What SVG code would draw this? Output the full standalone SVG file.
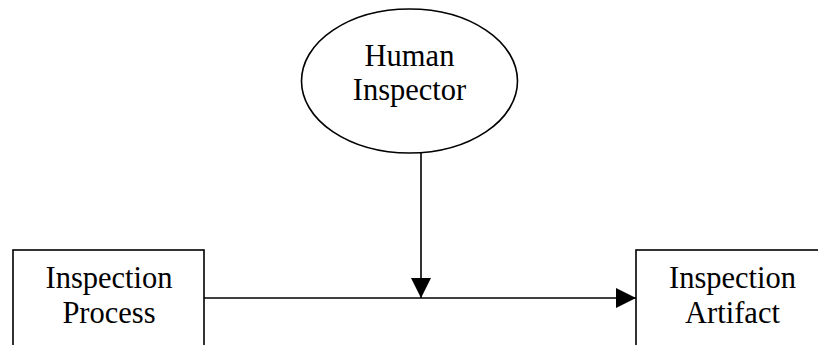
<svg xmlns="http://www.w3.org/2000/svg" width="818" height="345" viewBox="0 0 818 345">
<style>
.shape{fill:#fff;stroke:#000;stroke-width:1.6}
.lbl{font-family:"Liberation Serif","Times New Roman",serif;font-size:30.5px;fill:#000;text-anchor:middle}
.conn{stroke:#000;stroke-width:1.6;fill:none}
</style>
<defs>
<marker id="arr" markerWidth="20" markerHeight="20" refX="20" refY="10" orient="auto" markerUnits="userSpaceOnUse">
<path d="M0,0 L20,10 L0,20 Z" fill="#000"/>
</marker>
</defs>
<rect width="818" height="345" fill="#fff"/>
<g id="human-inspector">
<ellipse class="shape" cx="409.5" cy="81" rx="108" ry="72"/>
<text class="lbl" x="409.5" y="66">Human</text>
<text class="lbl" x="409.5" y="100">Inspector</text>
</g>
<g id="inspection-process">
<rect class="shape" x="13" y="250" width="191" height="110"/>
<text class="lbl" x="109" y="288">Inspection</text>
<text class="lbl" x="109" y="323">Process</text>
</g>
<g id="inspection-artifact">
<rect class="shape" x="636" y="250" width="200" height="110"/>
<text class="lbl" x="732.5" y="288">Inspection</text>
<text class="lbl" x="732.5" y="323">Artifact</text>
</g>
<g id="connectors">
<line class="conn" x1="204" y1="298" x2="636" y2="298" marker-end="url(#arr)"/>
<line class="conn" x1="421" y1="153" x2="421" y2="298" marker-end="url(#arr)"/>
</g>
</svg>
